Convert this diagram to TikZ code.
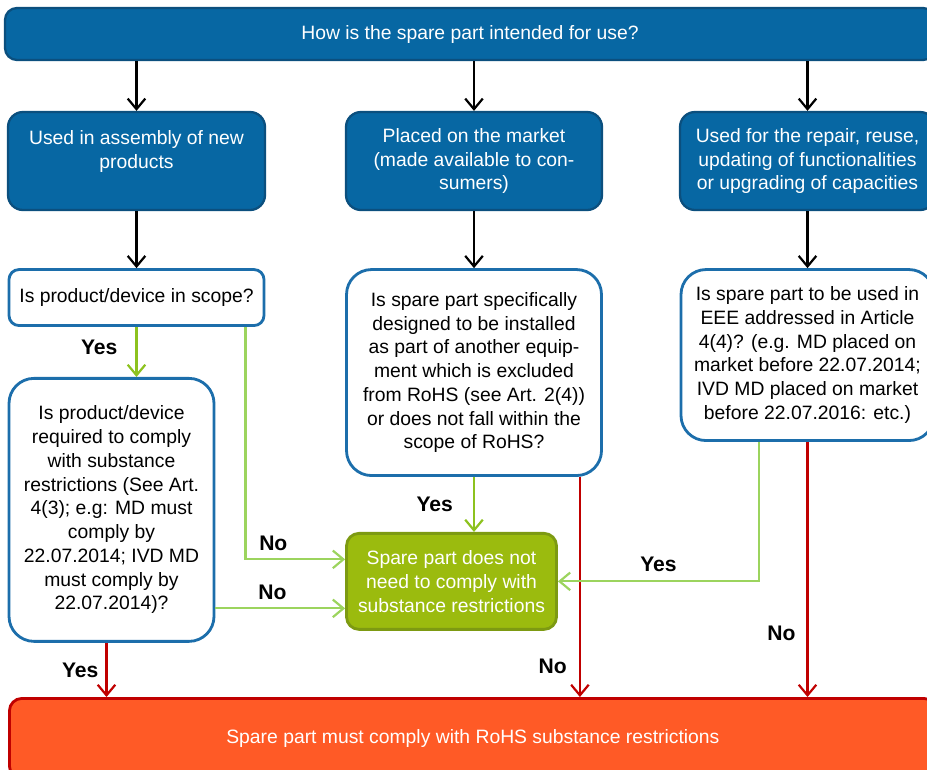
\documentclass[tikz,border=0pt]{standalone}
\usepackage{fontspec}
\setmainfont{Liberation Sans}
\usetikzlibrary{positioning, arrows.meta}

\definecolor{usefill}{HTML}{0767A3}
\definecolor{useedge}{HTML}{0B4F7E}
\definecolor{askedge}{HTML}{1C6EAB}
\definecolor{okfill}{HTML}{9BBB0E}
\definecolor{okedge}{HTML}{7D9A12}
\definecolor{yesgreen}{HTML}{8DC21F}
\definecolor{nogreen}{HTML}{9CD45E}
\definecolor{mustfill}{HTML}{FF5A26}
\definecolor{mustedge}{HTML}{C00000}

\begin{document}
\begin{tikzpicture}[node distance=1.14cm, >={Straight Barb[length=6pt,width=10pt]}]
	\tikzstyle{every node}=[font=\fontsize{11}{13.5}\selectfont]
	\tikzstyle{usebox}=[draw=useedge, line width=1.3pt, fill=usefill, text=white, rounded corners=0.3cm, align=center]
	\tikzstyle{askbox}=[draw=askedge, line width=1.6pt, fill=white, rounded corners=0.5cm, align=center]
	\tikzstyle{okbox}=[draw=okedge, line width=1.6pt, fill=okfill, text=white, rounded corners=0.25cm, align=center]
	\tikzstyle{rohsbox}=[draw=mustedge, line width=1.6pt, fill=mustfill, text=white, rounded corners=0.25cm, align=center]
	\tikzstyle{flow}=[->, line width=1.25pt, black]
	\tikzstyle{yesok}=[->, line width=1.25pt, yesgreen]
	\tikzstyle{nook}=[->, line width=1.25pt, nogreen]
	\tikzstyle{rohsline}=[->, line width=1.25pt, mustedge]
	\tikzstyle{answer}=[font=\fontsize{12}{14}\selectfont\bfseries, inner sep=0pt, text=black]

	\useasboundingbox (0,0) rectangle (18.54,-15.38);

	\node[usebox, rounded corners=0.24cm, minimum width=18.6cm, minimum height=1.04cm] (how) at (9.4,-0.68) {How is the spare part intended for use?};
	\node[usebox, minimum width=5.14cm, minimum height=1.96cm] (assembly) at (2.73,-3.22) {Used in assembly of new\\products\\\mbox{}};
	\node[usebox, minimum width=5.12cm, minimum height=1.96cm] (market) at (9.48,-3.22) {Placed on the market\\(made available to con-\\sumers)};
	\node[usebox, minimum width=5.10cm, minimum height=1.96cm] (repair) at (16.15,-3.22) {Used for the repair, reuse,\\updating of functionalities\\or upgrading of capacities};

	\node[askbox, rounded corners=0.2cm, minimum width=5.10cm, minimum height=1.12cm, below=of assembly] (scope) {Is product/device in scope?};
	\node[askbox, minimum width=5.10cm, minimum height=4.12cm, below=of market] (excluded) {Is spare part specifically\\designed to be installed\\as part of another equip-\\ment which is excluded\\from RoHS (see Art. 2(4))\\or does not fall within the\\scope of RoHS?};
	\node[askbox, minimum width=5.06cm, minimum height=3.42cm, below=of repair] (article) {Is spare part to be used in\\EEE addressed in Article\\4(4)? (e.g. MD placed on\\market before 22.07.2014;\\IVD MD placed on market\\before 22.07.2016: etc.)};
	\node[askbox, minimum width=4.10cm, minimum height=5.26cm, below=1cm of scope.south west, anchor=north west] (required) {Is product/device\\required to comply\\with substance\\restrictions (See Art.\\4(3); e.g: MD must\\comply by\\22.07.2014; IVD MD\\must comply by\\22.07.2014)?};
	\node[okbox, minimum width=4.2cm, minimum height=1.92cm, below=1.1cm of excluded.south west, anchor=north west] (exempt) {Spare part does not\\need to comply with\\substance restrictions};
	\node[rohsbox, minimum width=18.54cm, minimum height=1.6cm, anchor=north west] (comply) at (0.16,-13.94) {Spare part must comply with RoHS substance restrictions};

	% from the question on top
	\draw[flow] (how.south -| assembly.north) -- (assembly.north);
	\draw[flow] (how.south -| market.north) -- (market.north);
	\draw[flow] (how.south -| repair.north) -- (repair.north);
	\draw[flow] (assembly) -- (scope);
	\draw[flow] (market) -- (excluded);
	\draw[flow] (repair) -- (article);

	% answers
	\coordinate (req) at ([xshift=-1mm]required.south);
	\coordinate (low) at ([yshift=-5.4mm]exempt.west);
	\coordinate (exno) at ([xshift=-4.6mm]excluded.south east);
	\coordinate (artyes) at ([xshift=-9.7mm]article.south);

	\draw[yesok] (scope.south) -- (scope.south |- required.north) node[answer, pos=0.4, left=3.6mm] {Yes};
	\draw[nook] ([xshift=-4mm]scope.south east) |- ([yshift=4.4mm]exempt.west) node[answer, pos=0.64, above=1.6mm] {No};
	\draw[nook] (required.east |- low) -- (low) node[answer, pos=0.44, above=1.6mm] {No};
	\draw[rohsline] (req) -- (req |- comply.north) node[answer, midway, left=1.4mm] {Yes};
	\draw[yesok] (excluded.south) -- (excluded.south |- exempt.north) node[answer, midway, left=4mm] {Yes};
	\draw[rohsline] (exno) -- (exno |- comply.north) node[answer, pos=0.86, left=2.4mm] {No};
	\draw[nook] (artyes) |- (exempt.east) node[answer, pos=0.75, above=1.8mm] {Yes};
	\draw[rohsline] (article.south) -- (article.south |- comply.north) node[answer, pos=0.75, left=2.2mm] {No};
\end{tikzpicture}
\end{document}
